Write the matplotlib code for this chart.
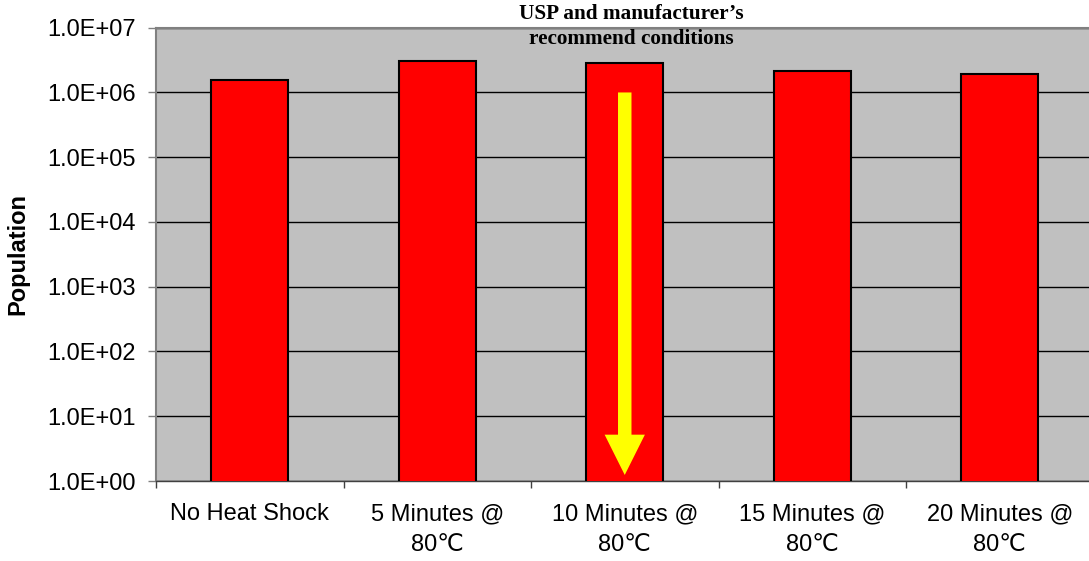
import matplotlib
matplotlib.use("Agg")
import matplotlib.pyplot as plt
from matplotlib.ticker import FixedLocator, NullFormatter

categories = [
    "No Heat Shock",
    "5 Minutes @\n80\u2103",
    "10 Minutes @\n80\u2103",
    "15 Minutes @\n80\u2103",
    "20 Minutes @\n80\u2103",
]
population = [1.56e6, 3.07e6, 2.86e6, 2.18e6, 1.9e6]
y_ticks = [1e0, 1e1, 1e2, 1e3, 1e4, 1e5, 1e6, 1e7]
y_tick_labels = ["1.0E+00", "1.0E+01", "1.0E+02", "1.0E+03",
                 "1.0E+04", "1.0E+05", "1.0E+06", "1.0E+07"]
arrow_bar = 2
arrow_from, arrow_to = 1.0e6, 1.24
note = "USP and manufacturer\u2019s\nrecommend conditions"

sans = ["Liberation Sans", "DejaVu Sans"]
plt.rcParams["font.family"] = sans

fig = plt.figure(figsize=(10.89, 5.61), dpi=100)
ax = fig.add_axes([156 / 1089, 80 / 561, 937.5 / 1089, 453.3 / 561])
ax.set_facecolor("#C0C0C0")

x = list(range(len(categories)))
ax.set_yscale("log")
ax.set_ylim(1e0, 1e7)
ax.set_xlim(-0.5, len(categories) - 0.5)

for v in y_ticks:
    ax.axhline(v, color="black", lw=1.0, zorder=1)

ax.bar(x, population, width=0.41, color="#FF0000", edgecolor="black",
       linewidth=1.5, zorder=3)

ax.annotate("", xy=(arrow_bar, arrow_to), xytext=(arrow_bar, arrow_from),
            arrowprops=dict(arrowstyle="simple,head_width=29,head_length=29,tail_width=9.7",
                            mutation_scale=1, color="#FFFF00", lw=0,
                            shrinkA=0, shrinkB=0),
            zorder=4)

ax.set_yticks(y_ticks)
ax.set_yticklabels(y_tick_labels)
ax.yaxis.set_minor_locator(FixedLocator([]))
ax.tick_params(axis="y", which="major", length=6, width=1, color="#808080",
               labelsize=17, pad=8.5)

ax.set_xticks(x)
ax.set_xticklabels(categories, linespacing=1.5)
ax.xaxis.set_minor_locator(FixedLocator([i - 0.5 for i in range(len(categories) + 1)]))
ax.xaxis.set_minor_formatter(NullFormatter())
ax.tick_params(axis="x", which="major", length=0, labelsize=17, pad=16)
ax.tick_params(axis="x", which="minor", length=5, width=1, color="#404040")

for side in ["top", "left", "right"]:
    ax.spines[side].set_color("#808080")
    ax.spines[side].set_linewidth(1.5)
ax.spines["bottom"].set_color("#404040")
ax.spines["bottom"].set_linewidth(1.0)

ax.set_ylabel("Population", fontsize=17, fontweight="bold")
ax.yaxis.set_label_coords((29 - 156) / 937.5, 0.5)

fig.text(631 / 1089, 1 - 4 / 561, note, ha="center", va="top",
         fontsize=15.3, fontweight="bold", family=["Liberation Serif", "DejaVu Serif"],
         linespacing=1.35, zorder=5)

fig.savefig("out.png", dpi=100)
